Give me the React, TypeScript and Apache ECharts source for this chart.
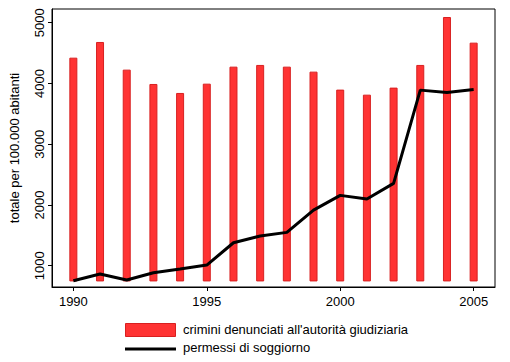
import React, { useEffect, useRef } from "react";
import * as echarts from "echarts";

const years = [1990, 1991, 1992, 1993, 1994, 1995, 1996, 1997, 1998, 1999, 2000, 2001, 2002, 2003, 2004, 2005];
const crimini = [4416, 4674, 4219, 3983, 3835, 3988, 4268, 4296, 4268, 4186, 3890, 3807, 3923, 4296, 5085, 4663];
const permessi = [753, 863, 765, 885, 946, 1011, 1378, 1488, 1549, 1916, 2158, 2097, 2355, 3890, 3852, 3901];
const xTicks = [1990, 1995, 2000, 2005];
const yTicks = [1000, 2000, 3000, 4000, 5000];
const barBase = 750;
const legendLabels = ["crimini denunciati all'autorità giudiziaria", "permessi di soggiorno"];
const yTitle = "totale per 100.000 abitanti";

export default function App() {
  const ref = useRef<HTMLDivElement>(null);
  useEffect(() => {
    if (!ref.current) return;
    const chart = echarts.init(ref.current, undefined, { renderer: "svg" });
    const font = "'Liberation Sans', Arial, sans-serif";
    const fs = 13;
    chart.setOption({
      animation: false,
      backgroundColor: "#ffffff",
      textStyle: { fontFamily: font },
      grid: {
        left: 52,
        top: 9,
        right: 15,
        bottom: 75,
        show: true,
        borderColor: "#000000",
        borderWidth: 1,
        containLabel: false,
      },
      xAxis: {
        type: "value",
        min: 1989.2,
        max: 2005.8,
        axisLine: { show: true, onZero: false, lineStyle: { color: "#000", width: 1 } },
        axisTick: { show: true, length: 4, customValues: xTicks, lineStyle: { color: "#000" } },
        axisLabel: { customValues: xTicks, color: "#000", fontSize: fs, fontFamily: font, margin: 8, formatter: (v: number) => String(v) },
        splitLine: { show: false },
      },
      yAxis: {
        type: "value",
        min: 650,
        max: 5225,
        name: yTitle,
        nameLocation: "middle",
        nameRotate: 90,
        nameGap: 31,
        nameTextStyle: { color: "#000", fontSize: fs, fontFamily: font },
        axisLine: { show: true, lineStyle: { color: "#000", width: 1 } },
        axisTick: { show: true, length: 4, customValues: yTicks, lineStyle: { color: "#000" } },
        axisLabel: { customValues: yTicks, rotate: 90, color: "#000", fontSize: fs, fontFamily: font, margin: 6, formatter: (v: number) => String(v) },
        splitLine: { show: false },
      },
      series: [
        {
          type: "custom",
          name: legendLabels[0],
          data: years.map((y, i) => [y, crimini[i]]),
          renderItem: (params: any, api: any) => {
            const x = api.value(0);
            const top = api.coord([x, api.value(1)]);
            const bottom = api.coord([x, barBase]);
            const w = 7;
            return {
              type: "rect",
              shape: { x: top[0] - w / 2, y: top[1], width: w, height: bottom[1] - top[1] },
              style: { fill: "#ff3333", stroke: "#d82020", lineWidth: 1 },
            };
          },
          z: 1,
        },
        {
          type: "line",
          name: legendLabels[1],
          data: years.map((y, i) => [y, permessi[i]]),
          symbol: "none",
          lineStyle: { color: "#000", width: 3 },
          z: 2,
        },
      ],
      graphic: [
        { type: "rect", left: 125, top: 323, shape: { width: 50, height: 13 }, style: { fill: "#ff3333", stroke: "#d82020", lineWidth: 1 } },
        { type: "text", left: 183, top: 323, style: { text: legendLabels[0], fill: "#000", font: `${fs}px ${font}` } },
        { type: "line", shape: { x1: 125, y1: 349, x2: 176, y2: 349 }, style: { stroke: "#000", lineWidth: 3 } },
        { type: "text", left: 183, top: 341, style: { text: legendLabels[1], fill: "#000", font: `${fs}px ${font}` } },
      ],
    });
    return () => chart.dispose();
  }, []);
  return <div ref={ref} style={{ position: "fixed", left: 0, top: 0, width: 510, height: 362 }} />;
}
